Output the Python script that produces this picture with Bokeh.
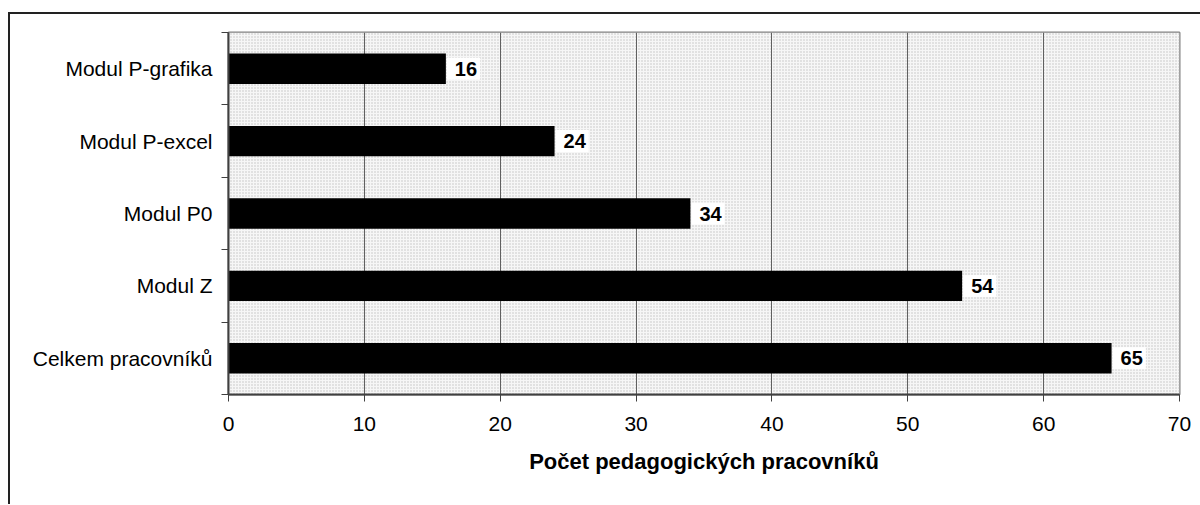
from bokeh.plotting import figure
from bokeh.models import ColumnDataSource, FixedTicker, Range1d
from bokeh.core.properties import value
from bokeh.embed import file_html
from bokeh.resources import INLINE

categories = ["Celkem pracovníků", "Modul Z", "Modul P0", "Modul P-excel", "Modul P-grafika"]
values = [65, 54, 34, 24, 16]
x_ticks = [0, 10, 20, 30, 40, 50, 60, 70]
x_title = "Počet pedagogických pracovníků"

ypos = [i + 0.5 for i in range(len(categories))]
src = ColumnDataSource(dict(y=ypos, v=values, cat=categories, lab=[str(v) for v in values]))

FONT = "Liberation Sans"

p = figure(width=1192, height=492, output_backend="svg", toolbar_location=None,
           x_range=Range1d(0, 70), y_range=Range1d(0, len(categories)),
           min_border_left=218, min_border_right=23, min_border_top=18, min_border_bottom=112)
p.margin = (12, 0, 0, 8)
p.styles = {"border-left": "2px solid #222222", "border-top": "2px solid #222222", "box-sizing": "border-box"}

p.background_fill_color = "#f0f0f0"
p.border_fill_color = "white"
p.outline_line_color = "#808080"
p.outline_line_width = 2

# stippled background
p.quad(left=[0], right=[70], bottom=[0], top=[len(categories)], fill_color="#f6f6f6",
       line_color=None, hatch_pattern="dot", hatch_color="#c0c0c0", hatch_scale=3,
       hatch_weight=1, level="image")

p.hbar(y="y", right="v", left=0, height=0.42, source=src, fill_color="black", line_color=None)

p.text(x="v", y="y", text="lab", source=src, x_offset=1, text_baseline="middle",
       text_font=value(FONT), text_font_size="20px", text_font_style="bold", text_color="black",
       background_fill_color="white", padding=dict(left=8, right=3, top=4, bottom=4))

p.xgrid.ticker = FixedTicker(ticks=x_ticks)
p.xgrid.grid_line_color = "#606060"
p.xgrid.grid_line_width = 1
p.ygrid.grid_line_color = None

xa = p.xaxis[0]
xa.ticker = FixedTicker(ticks=x_ticks)
xa.axis_line_color = "#404040"
xa.axis_line_width = 2
xa.major_tick_in = 0
xa.major_tick_out = 7
xa.major_tick_line_color = "#404040"
xa.minor_tick_line_color = None
xa.major_label_text_font = FONT
xa.major_label_text_font_size = "21px"
xa.major_label_text_color = "black"
xa.major_label_standoff = 15
xa.axis_label = x_title
xa.axis_label_text_font = FONT
xa.axis_label_text_font_size = "22px"
xa.axis_label_text_font_style = "bold"
xa.axis_label_text_color = "black"
xa.axis_label_standoff = 15

ya = p.yaxis[0]
ya.ticker = FixedTicker(ticks=ypos, minor_ticks=list(range(len(categories) + 1)))
ya.major_label_overrides = {y: c for y, c in zip(ypos, categories)}
ya.major_tick_line_color = None
ya.minor_tick_line_color = "#404040"
ya.minor_tick_in = 0
ya.minor_tick_out = 7
ya.axis_line_color = "#404040"
ya.axis_line_width = 2
ya.major_label_text_font = FONT
ya.major_label_text_font_size = "21px"
ya.major_label_text_color = "black"
ya.major_label_standoff = 9

open("out.html", "w").write(file_html(p, INLINE))
